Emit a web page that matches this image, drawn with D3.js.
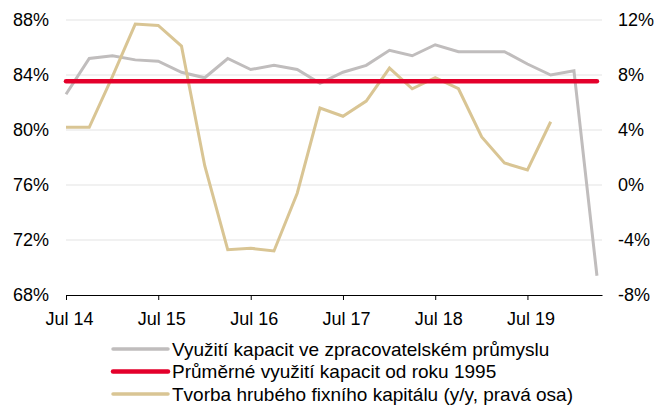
<!DOCTYPE html>
<html>
<head>
<meta charset="utf-8">
<script src="https://cdn.jsdelivr.net/npm/d3@7"></script>
<style>
    body { margin: 0; background: #fff; }
    svg { display: block; font-family: "Liberation Sans", Arial, sans-serif; }
</style>
</head>
<body>
<div id="chart"></div>
<script>
// quarterly observations, Jul 2014 .. Apr 2020
const quarters = d3.range(24).map(i => new Date(2014, 6 + 3 * i, 1));

// capacity utilisation in manufacturing (%), left axis
const utilisation = [82.6, 85.2, 85.4, 85.1, 85.0, 84.2, 83.8, 85.2, 84.4, 84.7, 84.4, 83.4,
    84.2, 84.7, 85.8, 85.4, 86.2, 85.7, 85.7, 85.7, 84.8, 84.0, 84.3, 69.4];

// long-run average since 1995 (%)
const average = 83.55;

// gross fixed capital formation y/y (%), right axis
const gfcf = [4.2, 4.2, 7.9, 11.7, 11.6, 10.1, 1.4, -4.7, -4.6, -4.8, -0.6, 5.6,
    5.0, 6.1, 8.5, 7.0, 7.8, 7.0, 3.5, 1.6, 1.1, 4.6];

const leftTicks = [68, 72, 76, 80, 84, 88];
const rightTicks = [-8, -4, 0, 4, 8, 12];
const xTicks = d3.range(2014, 2020).map(y => new Date(y, 6, 1));

const legendLabels = [
    'Využití kapacit ve zpracovatelském průmyslu',
    'Průměrné využití kapacit od roku 1995',
    'Tvorba hrubého fixního kapitálu (y/y, pravá osa)'
];

const colors = { grey: '#c0bdbd', red: '#e4002b', tan: '#d9c594' };

function renderChart() {
    const width = 656;
    const height = 408;
    const margin = { top: 20, right: 54, bottom: 113, left: 66 };
    const innerRight = width - margin.right;
    const innerBottom = height - margin.bottom;

    const svg = d3.select('#chart')
        .append('svg')
        .attr('width', width)
        .attr('height', height);

    const x = d3.scaleTime()
        .domain([new Date(2014, 6, 1), new Date(2020, 3, 21)])
        .range([margin.left, innerRight]);

    const yLeft = d3.scaleLinear().domain([68, 88]).range([innerBottom, margin.top]);
    const yRight = d3.scaleLinear().domain([-8, 12]).range([innerBottom, margin.top]);

    // gridlines
    svg.append('g')
        .selectAll('line')
        .data(leftTicks.slice(1))
        .join('line')
        .attr('x1', margin.left)
        .attr('x2', innerRight)
        .attr('y1', d => yLeft(d))
        .attr('y2', d => yLeft(d))
        .attr('stroke', '#e3e3e3')
        .attr('stroke-width', 1);

    // left axis
    const leftAxis = svg.append('g')
        .attr('transform', `translate(${margin.left - 14},0)`)
        .call(d3.axisLeft(yLeft).tickValues(leftTicks).tickSize(0).tickFormat(d => d + '%'));
    leftAxis.select('.domain').remove();

    // right axis
    const rightAxis = svg.append('g')
        .attr('transform', `translate(${innerRight + 13},0)`)
        .call(d3.axisRight(yRight).tickValues(rightTicks).tickSize(0).tickFormat(d => d + '%'));
    rightAxis.select('.domain').remove();

    // bottom axis
    const bottomAxis = svg.append('g')
        .attr('transform', `translate(0,${innerBottom})`)
        .call(d3.axisBottom(x).tickValues(xTicks).tickSize(5).tickSizeOuter(0)
            .tickFormat(d3.timeFormat('%b %y')));
    bottomAxis.select('.domain').attr('stroke', '#000');
    bottomAxis.selectAll('.tick line').attr('stroke', '#000');
    bottomAxis.selectAll('.tick text').attr('dy', '1.2em').attr('dx', 3);

    svg.selectAll('.tick text')
        .attr('font-size', 18)
        .attr('fill', '#000')
        .attr('font-family', '"Liberation Sans", Arial, sans-serif');

    // series
    const lineLeft = d3.line().x((d, i) => x(quarters[i])).y(d => yLeft(d));
    const lineRight = d3.line().x((d, i) => x(quarters[i])).y(d => yRight(d));

    svg.append('path')
        .datum(utilisation)
        .attr('d', lineLeft)
        .attr('fill', 'none')
        .attr('stroke', colors.grey)
        .attr('stroke-width', 3);

    svg.append('path')
        .datum(gfcf)
        .attr('d', lineRight)
        .attr('fill', 'none')
        .attr('stroke', colors.tan)
        .attr('stroke-width', 3);

    svg.append('path')
        .datum(utilisation.map(() => average))
        .attr('d', lineLeft)
        .attr('fill', 'none')
        .attr('stroke', colors.red)
        .attr('stroke-width', 4.5)
        .attr('stroke-linecap', 'round');

    // legend
    const legend = svg.append('g').attr('transform', 'translate(113,349)');
    const items = legend.selectAll('g')
        .data(legendLabels)
        .join('g')
        .attr('transform', (d, i) => `translate(0,${i * 22.5})`);

    items.append('line')
        .attr('x1', 0)
        .attr('x2', 55)
        .attr('stroke', (d, i) => [colors.grey, colors.red, colors.tan][i])
        .attr('stroke-width', (d, i) => i === 1 ? 4.5 : 3.5)
        .attr('stroke-linecap', 'round');

    items.append('text')
        .attr('x', 59)
        .attr('dy', '0.35em')
        .attr('font-size', 19)
        .attr('fill', '#000')
        .text(d => d);
}

renderChart();
</script>
</body>
</html>
